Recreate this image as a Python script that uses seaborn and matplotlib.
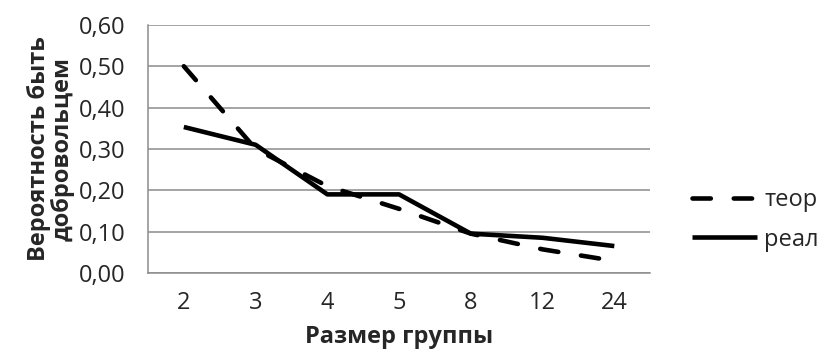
import matplotlib
matplotlib.use("Agg")
import matplotlib.pyplot as plt
import seaborn as sns
import pandas as pd
import numpy as np
from matplotlib.ticker import FixedLocator, FuncFormatter

groups = ["2", "3", "4", "5", "8", "12", "24"]
teor = [0.50, 0.30, 0.21, 0.155, 0.095, 0.057, 0.029]
real = [0.353, 0.31, 0.19, 0.19, 0.095, 0.085, 0.065]
series_names = ["теор", "реал"]

df = pd.DataFrame({
    "group": groups * 2,
    "value": teor + real,
    "series": [series_names[0]] * len(groups) + [series_names[1]] * len(groups),
})

sns.set_style("white")
plt.rcParams["font.family"] = ["Open Sans", "DejaVu Sans"]

fig = plt.figure(figsize=(8.22, 3.61), dpi=100)
ax = fig.add_axes([0.18, 0.244, 0.611, 0.687])

LW = 3.3
sns.lineplot(data=df, x="group", y="value", style="series",
             dashes={"теор": (4, 5.0), "реал": ""}, color="black",
             linewidth=LW, ax=ax, sort=False, legend=True)
for ln in ax.lines:
    ln.set_solid_capstyle("butt")
    ln.set_dash_capstyle("round")

ax.set_xlim(-0.5, len(groups) - 0.5)
ax.set_ylim(0, 0.6)
ax.set_yticks(np.arange(0, 0.61, 0.1))
ax.yaxis.set_major_formatter(FuncFormatter(lambda v, p: f"{v:.2f}".replace(".", ",")))
ax.grid(axis="y", color="#8c8c8c", linewidth=1.1)
ax.set_axisbelow(True)

ax.xaxis.set_minor_locator(FixedLocator(np.arange(-0.5, len(groups), 1.0)))
ax.tick_params(axis="x", which="major", length=0, pad=13, labelsize=17)
ax.tick_params(axis="x", which="minor", length=7, color="#8c8c8c", width=1.1, direction="out")
ax.tick_params(axis="y", which="major", length=6, color="#8c8c8c", width=1.1, direction="out", labelsize=17, pad=10)

for s in ["top", "right"]:
    ax.spines[s].set_visible(False)
for s in ["left", "bottom"]:
    ax.spines[s].set_color("#8c8c8c")
    ax.spines[s].set_linewidth(1.1)

ax.set_xlabel("Размер группы", fontsize=17, fontweight="bold", labelpad=7)
ax.set_ylabel("Вероятность быть\nдобровольцем", fontsize=17, fontweight="bold", labelpad=3,
              linespacing=1.0)

leg = ax.legend(loc="center left", bbox_to_anchor=(1.084, 0.214), frameon=False,
                fontsize=17, handlelength=2.75, handletextpad=0.3, labelspacing=0.65,
                borderpad=0, borderaxespad=0)
for h in leg.get_lines():
    h.set_linewidth(LW)

fig.savefig("out.png", dpi=100)
